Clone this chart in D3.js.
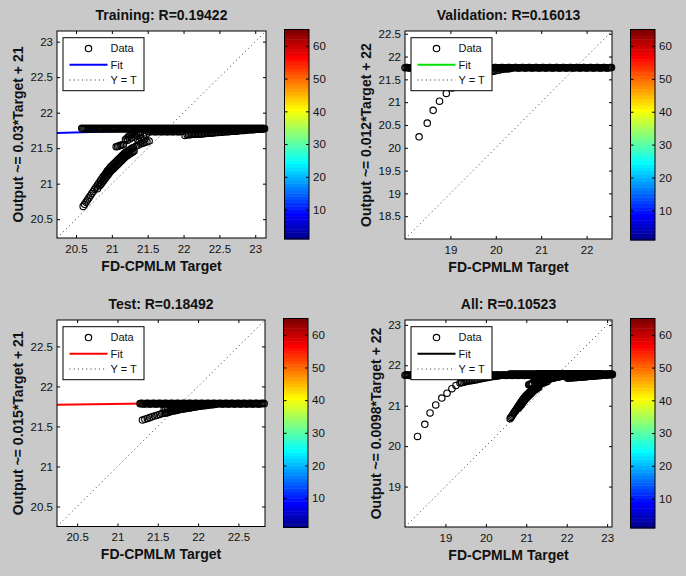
<!DOCTYPE html>
<html>
<head>
<meta charset="utf-8">
<script src="https://cdn.jsdelivr.net/npm/d3@7"></script>
<style>
  html, body { margin: 0; padding: 0; background: #c9c9c9; }
  svg { display: block; }
  text { font-family: "Liberation Sans", Arial, Helvetica, sans-serif; fill: #111; }
</style>
</head>
<body>
<div id="chart"></div>
<script>
// ---- chart values ----
var panelTitles = ["Training: R=0.19422", "Validation: R=0.16013", "Test: R=0.18492", "All: R=0.10523"];
var yLabels = ["Output ~= 0.03*Target + 21", "Output ~= 0.012*Target + 22", "Output ~= 0.015*Target + 21", "Output ~= 0.0098*Target + 22"];
var xLabel = "FD-CPMLM Target";
var legendLabels = ["Data", "Fit", "Y = T"];
var axisLimits = [[20.235, 23.15], [18.0, 22.56], [20.25, 22.83], [18.0, 23.12]];
var xTicks = [[20.5, 21, 21.5, 22, 22.5, 23], [19, 20, 21, 22], [20.5, 21, 21.5, 22, 22.5], [19, 20, 21, 22, 23]];
var yTicks = [[20.5, 21, 21.5, 22, 22.5, 23], [18.5, 19, 19.5, 20, 20.5, 21, 21.5, 22, 22.5], [20.5, 21, 21.5, 22, 22.5], [19, 20, 21, 22, 23]];
var fitSlopes = [0.03, 0.012, 0.015, 0.0098];
var fitIntercepts = [21.108, 21.49, 21.466, 21.53];
var colorbarRange = [1, 65];
var colorbarTicks = [10, 20, 30, 40, 50, 60];
var jetStops = [1, 8, 24, 40, 56, 64];
var jetColors = ["#00008f", "#0000ff", "#00ffff", "#ffff00", "#ff0000", "#800000"];

// [target, output]
var trainPoints = [
  // saturated band
  [20.58,21.78],[20.61,21.77],[20.64,21.775],[20.67,21.78],[20.70,21.77],[20.73,21.775],[20.76,21.78],[20.79,21.77],[20.82,21.775],[20.85,21.78],
  [20.88,21.77],[20.91,21.775],[20.94,21.78],[20.97,21.77],[21.00,21.775],[21.03,21.78],[21.06,21.77],[21.09,21.775],[21.12,21.78],[21.15,21.77],
  [21.18,21.775],[21.21,21.78],[21.24,21.77],[21.27,21.775],[21.30,21.78],[21.33,21.77],[21.36,21.775],[21.39,21.78],[21.42,21.77],[21.45,21.775],
  [21.48,21.78],[21.51,21.77],[21.54,21.775],[21.57,21.78],[21.60,21.77],[21.63,21.775],[21.66,21.78],[21.69,21.77],[21.72,21.775],[21.75,21.78],
  [21.78,21.77],[21.81,21.775],[21.84,21.78],[21.87,21.77],[21.90,21.775],[21.93,21.78],[21.96,21.77],[21.99,21.775],[22.02,21.78],[22.05,21.77],
  [22.08,21.775],[22.11,21.78],[22.14,21.77],[22.17,21.775],[22.20,21.78],[22.23,21.77],[22.26,21.775],[22.29,21.78],[22.32,21.77],[22.35,21.775],
  [22.38,21.78],[22.41,21.77],[22.44,21.775],[22.47,21.78],[22.50,21.77],[22.53,21.775],[22.56,21.78],[22.59,21.77],[22.62,21.775],[22.65,21.78],
  [22.68,21.77],[22.71,21.775],[22.74,21.78],[22.77,21.77],[22.80,21.775],[22.83,21.78],[22.86,21.77],[22.89,21.775],[22.92,21.78],[22.95,21.77],
  [22.98,21.775],[23.01,21.78],[23.04,21.77],[23.07,21.775],[23.10,21.78],[23.13,21.775],
  [20.595,21.775],[20.625,21.78],[20.655,21.77],[20.685,21.775],[20.715,21.78],[20.745,21.77],[20.775,21.775],[20.805,21.78],[20.835,21.77],[20.865,21.775],
  [20.895,21.78],[20.925,21.77],[20.955,21.775],[20.985,21.78],[21.015,21.77],[21.045,21.775],[21.075,21.78],[21.105,21.77],[21.135,21.775],[21.165,21.78],
  [21.195,21.77],[21.225,21.775],[21.255,21.78],[21.285,21.77],[21.315,21.775],[21.345,21.78],[21.375,21.77],[21.405,21.775],[21.435,21.78],[21.465,21.77],
  [21.495,21.775],[21.525,21.78],[21.555,21.77],[21.585,21.775],[21.615,21.78],[21.645,21.77],[21.675,21.775],[21.705,21.78],[21.735,21.77],[21.765,21.775],
  [21.795,21.78],[21.825,21.77],[21.855,21.775],[21.885,21.78],[21.915,21.77],[21.945,21.775],[21.975,21.78],[22.005,21.77],[22.035,21.775],[22.065,21.78],
  [22.095,21.77],[22.125,21.775],[22.155,21.78],[22.185,21.77],[22.215,21.775],[22.245,21.78],[22.275,21.77],[22.305,21.775],[22.335,21.78],[22.365,21.77],
  [22.395,21.775],[22.425,21.78],[22.455,21.77],[22.485,21.775],[22.515,21.78],[22.545,21.77],[22.575,21.775],[22.605,21.78],[22.635,21.77],[22.665,21.775],
  [22.695,21.78],[22.725,21.77],[22.755,21.775],[22.785,21.78],[22.815,21.77],[22.845,21.775],[22.875,21.78],[22.905,21.77],[22.935,21.775],[22.965,21.78],
  [22.995,21.77],[23.025,21.775],[23.055,21.78],[23.085,21.77],[23.115,21.775],
  // just under the band
  [21.50,21.735],[21.54,21.73],[21.58,21.735],[21.62,21.73],[21.66,21.735],[21.70,21.73],[21.74,21.735],[21.78,21.73],[21.82,21.735],[21.86,21.73],
  [21.90,21.735],[21.94,21.73],[21.98,21.735],
  [21.52,21.732],[21.56,21.734],[21.60,21.732],[21.64,21.734],[21.68,21.732],[21.72,21.734],[21.76,21.732],[21.80,21.734],[21.84,21.732],[21.88,21.734],
  [21.92,21.732],[21.96,21.734],
  // lower branch on the right
  [22.02,21.68],[22.05,21.69],[22.09,21.69],[22.13,21.695],[22.17,21.695],[22.21,21.70],[22.25,21.70],[22.29,21.705],[22.33,21.71],[22.37,21.71],
  [22.41,21.715],[22.45,21.72],[22.49,21.72],[22.53,21.725],[22.57,21.73],[22.61,21.73],[22.65,21.735],[22.69,21.74],[22.73,21.74],[22.77,21.745],
  [22.81,21.75],[22.85,21.75],[22.89,21.755],[22.93,21.76],[22.97,21.76],[23.01,21.765],[23.05,21.77],[23.09,21.77],
  [22.07,21.69],[22.11,21.692],[22.15,21.695],[22.19,21.698],[22.23,21.70],[22.27,21.703],[22.31,21.708],[22.35,21.71],[22.39,21.713],[22.43,21.718],
  [22.47,21.72],[22.51,21.723],[22.55,21.728],[22.59,21.73],[22.63,21.733],[22.67,21.738],[22.71,21.74],[22.75,21.743],[22.79,21.748],[22.83,21.75],
  [22.87,21.753],[22.91,21.758],[22.95,21.76],[22.99,21.763],[23.03,21.768],[23.07,21.77],[23.11,21.772],
  // pieces between the curve and the band
  [21.19,21.62],[21.21,21.64],[21.23,21.66],[21.25,21.675],[21.27,21.69],[21.29,21.71],[21.31,21.725],[21.33,21.74],
  [21.22,21.61],[21.25,21.63],[21.28,21.65],[21.31,21.67],[21.34,21.69],[21.37,21.71],[21.40,21.72],
  [21.06,21.52],[21.08,21.525],[21.10,21.53],[21.12,21.54],[21.14,21.545],[21.16,21.55],
  [21.34,21.53],[21.37,21.545],[21.40,21.56],[21.43,21.57],[21.46,21.58],[21.49,21.59],[21.52,21.60],
  [21.36,21.62],[21.40,21.645],[21.44,21.67],[21.48,21.695],[21.38,21.59],[21.42,21.61],[21.46,21.63],
  // rising curve
  [20.60,20.68],[20.62,20.71],[20.64,20.74],[20.66,20.77],[20.68,20.80],[20.70,20.83],[20.72,20.86],[20.74,20.89],[20.76,20.92],[20.78,20.95],
  [20.80,20.98],[20.82,21.01],[20.84,21.04],[20.86,21.07],[20.88,21.10],[20.90,21.12],[20.92,21.15],[20.94,21.18],[20.96,21.20],[20.98,21.23],
  [21.00,21.25],[21.03,21.28],[21.06,21.31],[21.09,21.34],[21.12,21.37],[21.15,21.40],[21.18,21.43],[21.21,21.45],[21.24,21.47],[21.27,21.49],
  [21.30,21.51],
  [20.91,21.135],[20.93,21.165],[20.95,21.19],[20.97,21.215],[20.99,21.24],[21.015,21.265],[21.045,21.295],[21.075,21.325],[21.105,21.355],[21.135,21.385],
  [21.165,21.415],[21.195,21.44],[21.225,21.46],[21.255,21.48],[21.285,21.50],
  [20.80,20.93],[20.83,20.97],[20.86,21.01],[20.89,21.05],[20.92,21.09],[20.95,21.13],[20.98,21.17],[21.01,21.20],[21.04,21.23],[21.07,21.26],
  [21.10,21.29],[21.13,21.32],[21.16,21.35],[21.19,21.38],[21.22,21.40],[21.25,21.42],[21.28,21.44],[21.31,21.46],
  [20.845,20.99],[20.875,21.03],[20.905,21.07],[20.935,21.11],[20.965,21.15],[20.995,21.185],[21.025,21.215],[21.055,21.245],[21.085,21.275],[21.115,21.305],
  [21.145,21.335],[21.175,21.365],[21.205,21.39],[21.235,21.41],[21.265,21.43],[21.295,21.45]
];

var valPoints = [
  [18.00,21.755],[18.05,21.76],[18.10,21.75],[18.15,21.755],[18.20,21.76],[18.25,21.75],[18.30,21.755],[18.35,21.76],[18.40,21.75],[18.45,21.755],
  [18.50,21.76],[18.55,21.75],[18.60,21.755],[18.65,21.76],[18.70,21.75],[18.75,21.755],[18.80,21.76],[18.85,21.75],[18.90,21.755],[18.95,21.76],
  [19.00,21.75],[19.05,21.755],[19.10,21.76],[19.15,21.75],[19.20,21.755],[19.25,21.76],[19.30,21.75],[19.35,21.755],[19.40,21.76],[19.45,21.75],
  [19.50,21.755],[19.55,21.76],[19.60,21.75],[19.65,21.755],[19.70,21.76],[19.75,21.75],[19.80,21.755],[19.85,21.76],[19.90,21.75],[19.95,21.755],
  [20.00,21.76],[20.05,21.75],[20.10,21.755],[20.15,21.76],[20.20,21.75],[20.25,21.755],[20.30,21.76],[20.35,21.75],[20.40,21.755],[20.45,21.76],
  [20.50,21.75],[20.55,21.755],[20.60,21.76],[20.65,21.75],[20.70,21.755],[20.75,21.76],[20.80,21.75],[20.85,21.755],[20.90,21.76],[20.95,21.75],
  [21.00,21.755],[21.05,21.76],[21.10,21.75],[21.15,21.755],[21.20,21.76],[21.25,21.75],[21.30,21.755],[21.35,21.76],[21.40,21.75],[21.45,21.755],
  [21.50,21.76],[21.55,21.75],[21.60,21.755],[21.65,21.76],[21.70,21.75],[21.75,21.755],[21.80,21.76],[21.85,21.75],[21.90,21.755],[21.95,21.76],
  [22.00,21.75],[22.05,21.755],[22.10,21.76],[22.15,21.75],[22.20,21.755],[22.25,21.76],[22.30,21.75],[22.35,21.755],[22.40,21.76],[22.45,21.75],
  [22.50,21.755],[22.55,21.76],
  [18.025,21.758],[18.075,21.752],[18.125,21.755],[18.175,21.758],[18.225,21.752],[18.275,21.755],[18.325,21.758],[18.375,21.752],[18.425,21.755],[18.475,21.758],
  [18.525,21.752],[18.575,21.755],[18.625,21.758],[18.675,21.752],[18.725,21.755],[18.775,21.758],[18.825,21.752],[18.875,21.755],[18.925,21.758],[18.975,21.752],
  [19.025,21.755],[19.075,21.758],[19.125,21.752],[19.175,21.755],[19.225,21.758],[19.275,21.752],[19.325,21.755],[19.375,21.758],[19.425,21.752],[19.475,21.755],
  [19.525,21.758],[19.575,21.752],[19.625,21.755],[19.675,21.758],[19.725,21.752],[19.775,21.755],[19.825,21.758],[19.875,21.752],[19.925,21.755],[19.975,21.758],
  [20.025,21.752],[20.075,21.755],[20.125,21.758],[20.175,21.752],[20.225,21.755],[20.275,21.758],[20.325,21.752],[20.375,21.755],[20.425,21.758],[20.475,21.752],
  [20.525,21.755],[20.575,21.758],[20.625,21.752],[20.675,21.755],[20.725,21.758],[20.775,21.752],[20.825,21.755],[20.875,21.758],[20.925,21.752],[20.975,21.755],
  [21.025,21.758],[21.075,21.752],[21.125,21.755],[21.175,21.758],[21.225,21.752],[21.275,21.755],[21.325,21.758],[21.375,21.752],[21.425,21.755],[21.475,21.758],
  [21.525,21.752],[21.575,21.755],[21.625,21.758],[21.675,21.752],[21.725,21.755],[21.775,21.758],[21.825,21.752],[21.875,21.755],[21.925,21.758],[21.975,21.752],
  [22.025,21.755],[22.075,21.758],[22.125,21.752],[22.175,21.755],[22.225,21.758],[22.275,21.752],[22.325,21.755],[22.375,21.758],[22.425,21.752],[22.475,21.755],
  [22.525,21.758],
  [18.31,20.24],[18.49,20.54],[18.62,20.82],[18.76,21.02],[18.91,21.19],[19.04,21.31],[19.16,21.42],[19.26,21.50],[19.36,21.56],[19.40,21.57],
  [19.44,21.58],[19.48,21.59],[19.52,21.60],[19.56,21.61],[19.60,21.615],[19.64,21.62],[19.68,21.63],[19.72,21.635],[19.76,21.64],[19.80,21.65],
  [19.85,21.66],[19.90,21.67],[19.95,21.68],[20.00,21.69],[20.05,21.70],[20.10,21.71],[20.15,21.72],[20.20,21.725],[20.25,21.73],[20.30,21.735]
];

var testPoints = [
  [21.28,21.785],[21.305,21.79],[21.33,21.78],[21.355,21.785],[21.38,21.79],[21.405,21.78],[21.43,21.785],[21.455,21.79],[21.48,21.78],[21.505,21.785],
  [21.53,21.79],[21.555,21.78],[21.58,21.785],[21.605,21.79],[21.63,21.78],[21.655,21.785],[21.68,21.79],[21.705,21.78],[21.73,21.785],[21.755,21.79],
  [21.78,21.78],[21.805,21.785],[21.83,21.79],[21.855,21.78],[21.88,21.785],[21.905,21.79],[21.93,21.78],[21.955,21.785],[21.98,21.79],[22.005,21.78],
  [22.03,21.785],[22.055,21.79],[22.08,21.78],[22.105,21.785],[22.13,21.79],[22.155,21.78],[22.18,21.785],[22.205,21.79],[22.23,21.78],[22.255,21.785],
  [22.28,21.79],[22.305,21.78],[22.33,21.785],[22.355,21.79],[22.38,21.78],[22.405,21.785],[22.43,21.79],[22.455,21.78],[22.48,21.785],[22.505,21.79],
  [22.53,21.78],[22.555,21.785],[22.58,21.79],[22.605,21.78],[22.63,21.785],[22.655,21.79],[22.68,21.78],[22.705,21.785],[22.73,21.79],[22.755,21.78],
  [22.78,21.785],[22.805,21.79],[22.82,21.785],
  [21.293,21.788],[21.318,21.782],[21.343,21.787],[21.368,21.788],[21.393,21.782],[21.418,21.787],[21.443,21.788],[21.468,21.782],[21.493,21.787],[21.518,21.788],
  [21.543,21.782],[21.568,21.787],[21.593,21.788],[21.618,21.782],[21.643,21.787],[21.668,21.788],[21.693,21.782],[21.718,21.787],[21.743,21.788],[21.768,21.782],
  [21.793,21.787],[21.818,21.788],[21.843,21.782],[21.868,21.787],[21.893,21.788],[21.918,21.782],[21.943,21.787],[21.968,21.788],[21.993,21.782],[22.018,21.787],
  [22.043,21.788],[22.068,21.782],[22.093,21.787],[22.118,21.788],[22.143,21.782],[22.168,21.787],[22.193,21.788],[22.218,21.782],[22.243,21.787],[22.268,21.788],
  [22.293,21.782],[22.318,21.787],[22.343,21.788],[22.368,21.782],[22.393,21.787],[22.418,21.788],[22.443,21.782],[22.468,21.787],[22.493,21.788],[22.518,21.782],
  [22.543,21.787],[22.568,21.788],[22.593,21.782],[22.618,21.787],[22.643,21.788],[22.668,21.782],[22.693,21.787],[22.718,21.788],[22.743,21.782],[22.768,21.787],
  [22.793,21.788],
  [21.31,21.58],[21.34,21.59],[21.37,21.60],[21.40,21.61],[21.43,21.62],[21.46,21.63],[21.49,21.64],[21.52,21.65],[21.55,21.66],[21.58,21.665],
  [21.61,21.67],[21.64,21.68],[21.67,21.69],[21.70,21.695],[21.73,21.70],[21.76,21.71],[21.79,21.715],[21.82,21.72],[21.85,21.725],[21.88,21.73],
  [21.91,21.735],[21.94,21.74],[21.97,21.745],[22.00,21.75],[22.04,21.755],[22.08,21.76],[22.12,21.765],[22.16,21.77],[22.20,21.775],
  [21.595,21.668],[21.625,21.675],[21.655,21.685],[21.685,21.692],[21.715,21.698],[21.745,21.705],[21.775,21.712],[21.805,21.718],[21.835,21.722],[21.865,21.728],
  [21.895,21.732],[21.925,21.738],[21.955,21.742],[21.985,21.748],[22.02,21.752],[22.06,21.758],[22.10,21.762],[22.14,21.768],[22.18,21.772],
  [21.58,21.72],[21.62,21.725],[21.66,21.73],[21.70,21.735],[21.74,21.74],[21.78,21.745],[21.82,21.75],[21.86,21.755],[21.90,21.76],[21.94,21.76],
  [21.98,21.765],[22.02,21.77],[22.06,21.77],
  [21.60,21.722],[21.64,21.728],[21.68,21.732],[21.72,21.738],[21.76,21.742],[21.80,21.748],[21.84,21.752],[21.88,21.758],[21.92,21.76],[21.96,21.762],
  [22.00,21.768],[22.04,21.77],[22.08,21.772],[22.12,21.775]
];

// the "All" plot holds every sample of the three subsets
var allPoints = trainPoints.concat(valPoints, testPoints);
var pointSets = [trainPoints, valPoints, testPoints, allPoints];

// ---- layout ----
var layout = [
  {x: 57,  y: 31,  w: 209, h: 207, fit: "#0000ff"},
  {x: 405, y: 31,  w: 207, h: 208, fit: "#00e000"},
  {x: 57,  y: 320, w: 208, h: 206.5, fit: "#ff0000"},
  {x: 405, y: 320, w: 207, h: 207, fit: "#000000"}
];

var jet = d3.scaleLinear().domain(jetStops).range(jetColors).interpolate(d3.interpolateRgb);
var fmt = d3.format("~g");

var svg = d3.select("#chart").append("svg")
  .attr("width", 686)
  .attr("height", 576);

svg.append("rect")
  .attr("width", 686)
  .attr("height", 576)
  .style("fill", "#c9c9c9");

layout.forEach(function(p, i) {
  var lim = axisLimits[i];
  var x = d3.scaleLinear().domain(lim).range([p.x, p.x + p.w]);
  var y = d3.scaleLinear().domain(lim).range([p.y + p.h, p.y]);
  var g = svg.append("g").attr("class", "panel");

  g.append("rect")
    .attr("x", p.x).attr("y", p.y)
    .attr("width", p.w).attr("height", p.h)
    .style("fill", "#fff");

  // Y = T
  g.append("line")
    .attr("x1", x(lim[0])).attr("y1", y(lim[0]))
    .attr("x2", x(lim[1])).attr("y2", y(lim[1]))
    .style("stroke", "#333")
    .style("stroke-width", 1)
    .style("stroke-dasharray", "1,3.2");

  // fit line
  g.append("line")
    .attr("x1", x(lim[0])).attr("y1", y(fitSlopes[i] * lim[0] + fitIntercepts[i]))
    .attr("x2", x(lim[1])).attr("y2", y(fitSlopes[i] * lim[1] + fitIntercepts[i]))
    .style("stroke", p.fit)
    .style("stroke-width", 2);

  // data
  g.selectAll("circle.data")
    .data(pointSets[i])
    .enter().append("circle")
      .attr("class", "data")
      .attr("cx", function(d) { return x(d[0]); })
      .attr("cy", function(d) { return y(d[1]); })
      .attr("r", 3.2)
      .style("fill", "none")
      .style("stroke", "#000")
      .style("stroke-width", 1.15);

  // axes, ticks inside on all four sides
  var gx = g.append("g")
    .attr("transform", "translate(0," + (p.y + p.h) + ")")
    .call(d3.axisBottom(x).tickValues(xTicks[i]).tickSizeInner(-3).tickSizeOuter(0).tickPadding(6.5).tickFormat(fmt));
  var gy = g.append("g")
    .attr("transform", "translate(" + p.x + ",0)")
    .call(d3.axisLeft(y).tickValues(yTicks[i]).tickSizeInner(-3).tickSizeOuter(0).tickPadding(4).tickFormat(fmt));
  g.append("g")
    .attr("transform", "translate(0," + p.y + ")")
    .call(d3.axisTop(x).tickValues(xTicks[i]).tickSizeInner(-3).tickSizeOuter(0).tickFormat(""));
  g.append("g")
    .attr("transform", "translate(" + (p.x + p.w) + ",0)")
    .call(d3.axisRight(y).tickValues(yTicks[i]).tickSizeInner(-3).tickSizeOuter(0).tickFormat(""));
  g.selectAll(".domain").remove();
  g.selectAll(".tick line").style("stroke", "#000");
  g.selectAll(".tick text").style("font-size", "11.5px").style("fill", "#111")
    .style("font-family", "'Liberation Sans', Arial, sans-serif");

  g.append("rect")
    .attr("x", p.x).attr("y", p.y)
    .attr("width", p.w).attr("height", p.h)
    .style("fill", "none")
    .style("stroke", "#000")
    .style("stroke-width", 1);

  // legend
  var lg = g.append("g").attr("transform", "translate(" + (p.x + 6) + "," + (p.y + 6.7) + ")");
  lg.append("rect")
    .attr("width", 81).attr("height", 53)
    .style("fill", "#fff")
    .style("stroke", "#000")
    .style("stroke-width", 1);
  lg.append("circle")
    .attr("cx", 25.5).attr("cy", 10.8).attr("r", 3.2)
    .style("fill", "none").style("stroke", "#000").style("stroke-width", 1.15);
  lg.append("line")
    .attr("x1", 6.5).attr("x2", 44.5).attr("y1", 27).attr("y2", 27)
    .style("stroke", p.fit).style("stroke-width", 2);
  lg.append("line")
    .attr("x1", 6.5).attr("x2", 44.5).attr("y1", 42.3).attr("y2", 42.3)
    .style("stroke", "#333").style("stroke-width", 1).style("stroke-dasharray", "1,3.2");
  lg.selectAll("text.legend")
    .data(legendLabels)
    .enter().append("text")
      .attr("class", "legend")
      .attr("x", 47.5)
      .attr("y", function(d, k) { return [10.8, 27, 42.3][k]; })
      .attr("dy", "0.36em")
      .style("font-size", "11px")
      .text(function(d) { return d; });

  // title and labels
  g.append("text")
    .attr("x", p.x + p.w / 2).attr("y", p.y - 11)
    .attr("text-anchor", "middle")
    .style("font-size", "14px").style("font-weight", "bold")
    .text(panelTitles[i]);
  g.append("text")
    .attr("x", p.x + p.w / 2).attr("y", p.y + p.h + 32.5)
    .attr("text-anchor", "middle")
    .style("font-size", "14px").style("font-weight", "bold")
    .text(xLabel);

  var tickW = d3.max(gy.selectAll(".tick text").nodes(), function(n) { return n.getBBox().width; });
  var ylx = p.x - 4 - tickW - 12.3;
  g.append("text")
    .attr("transform", "translate(" + ylx + "," + (p.y + p.h / 2) + ") rotate(-90)")
    .attr("text-anchor", "middle")
    .attr("dy", "0.36em")
    .style("font-size", "14px").style("font-weight", "bold")
    .text(yLabels[i]);

  // colorbar
  var cbX = p.x + p.w + 18.5, cbW = 24.5;
  var cb = d3.scaleLinear().domain(colorbarRange).range([p.y + p.h + 1, p.y - 1.5]);
  g.selectAll("rect.cell")
    .data(d3.range(colorbarRange[0], colorbarRange[1]))
    .enter().append("rect")
      .attr("class", "cell")
      .attr("x", cbX)
      .attr("y", function(k) { return cb(k + 1); })
      .attr("width", cbW)
      .attr("height", function(k) { return cb(k) - cb(k + 1) + 0.4; })
      .style("fill", function(k) { return jet(k); });
  g.append("g")
    .attr("transform", "translate(" + (cbX + cbW) + ",0)")
    .call(d3.axisRight(cb).tickValues(colorbarTicks).tickSizeInner(-3).tickSizeOuter(0).tickPadding(4))
    .call(function(a) {
      a.select(".domain").remove();
      a.selectAll(".tick line").style("stroke", "#000");
      a.selectAll(".tick text").style("font-size", "11.5px").style("fill", "#111")
        .style("font-family", "'Liberation Sans', Arial, sans-serif");
    });
  g.append("g")
    .attr("transform", "translate(" + cbX + ",0)")
    .call(d3.axisLeft(cb).tickValues(colorbarTicks).tickSizeInner(-3).tickSizeOuter(0).tickFormat(""))
    .call(function(a) {
      a.select(".domain").remove();
      a.selectAll(".tick line").style("stroke", "#000");
    });
  g.append("rect")
    .attr("x", cbX).attr("y", cb(colorbarRange[1]))
    .attr("width", cbW).attr("height", cb(colorbarRange[0]) - cb(colorbarRange[1]))
    .style("fill", "none")
    .style("stroke", "#000")
    .style("stroke-width", 1);
});
</script>
</body>
</html>
